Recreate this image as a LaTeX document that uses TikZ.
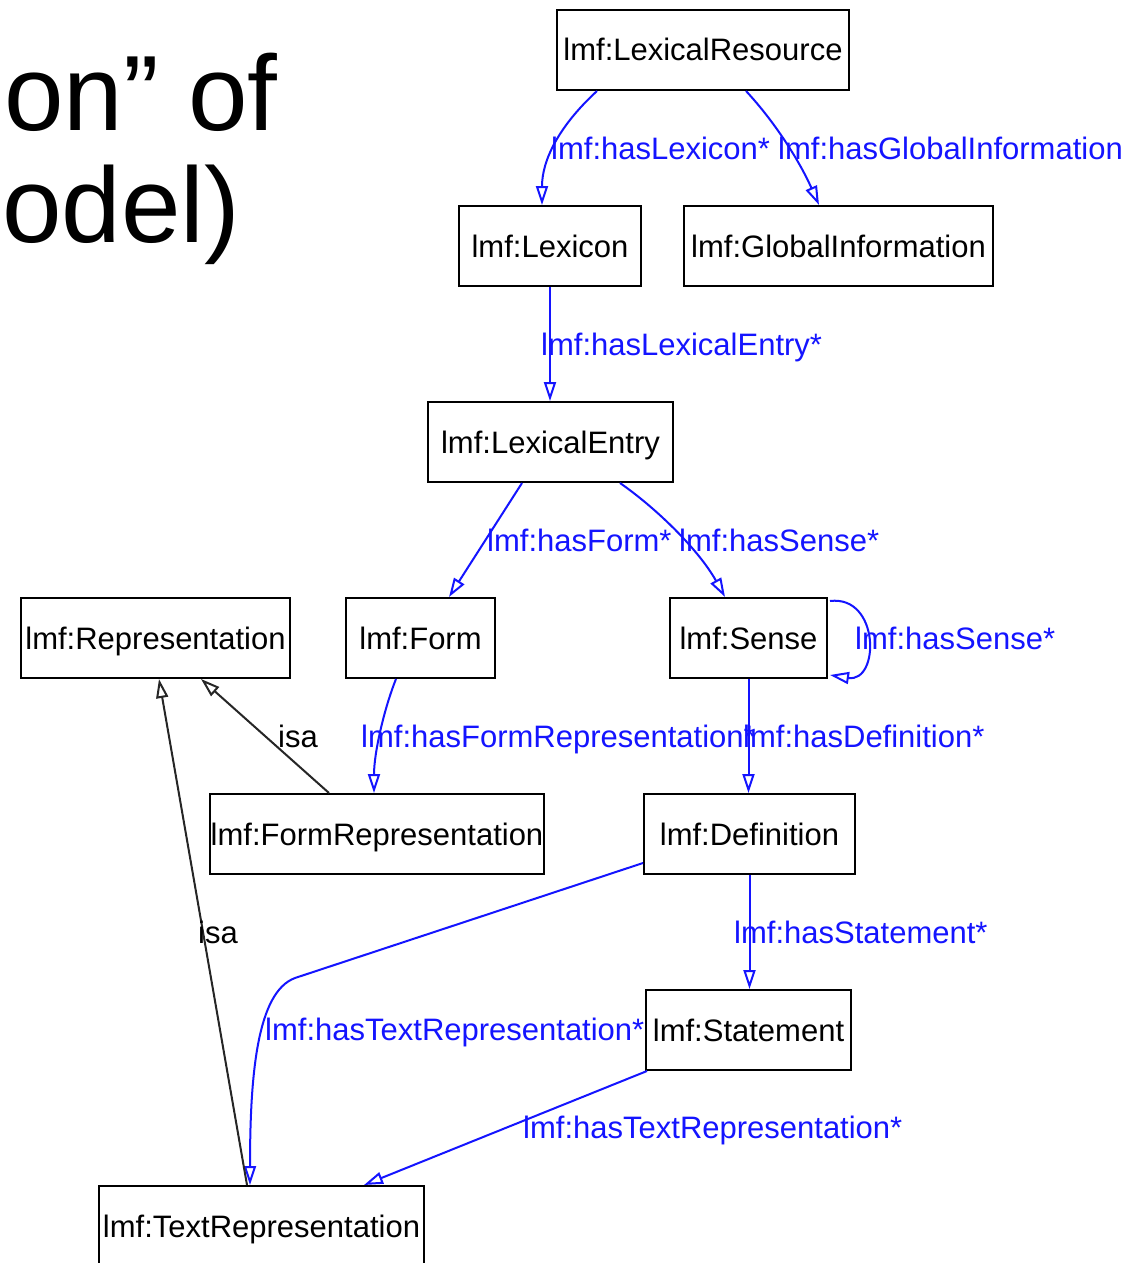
\documentclass[tikz,border=0pt]{standalone}
\usepackage{fontspec}
\setmainfont{Liberation Sans}
\usetikzlibrary{arrows.meta,calc}
\definecolor{relblue}{RGB}{20,20,255}
\tikzset{
  cls/.style={draw=black, line width=2pt, fill=white, minimum height=80pt,
    inner sep=0pt, text height=25pt, text depth=3pt,
    font=\fontsize{31}{36}\selectfont},
  rel/.style={draw=relblue, line width=2pt,
    -{Triangle[open,length=19pt,width=12pt]}},
  isarel/.style={draw=black!85, line width=2pt,
    -{Triangle[open,length=19pt,width=12pt]}},
  rellabel/.style={anchor=base west, inner sep=0pt, text=relblue,
    font=\fontsize{31}{36}\selectfont},
  isalabel/.style={anchor=base west, inner sep=0pt, text=black,
    font=\fontsize{31}{36}\selectfont},
  title/.style={anchor=base west, inner sep=0pt, font=\fontsize{107}{120}\selectfont}
}
\begin{document}
\begin{tikzpicture}[x=1pt,y=-1pt]
\useasboundingbox (0,0) rectangle (1135,1263);
\fill[white] (0,0) rectangle (1135,1263);

% slide heading fragment
\node[title] (head1) at (4,130) {on” of};
\node[title] (head2) at (2,242) {odel)};

% classes
\node[cls, minimum width=292pt] (LexRes)     at (703,50)     {lmf:LexicalResource};
\node[cls, minimum width=182pt] (Lexicon)    at (550,246)    {lmf:Lexicon};
\node[cls, minimum width=309pt] (GlobalInfo) at (838.5,246)  {lmf:GlobalInformation};
\node[cls, minimum width=245pt] (LexEntry)   at (550.5,442)  {lmf:LexicalEntry};
\node[cls, minimum width=269pt] (Repr)       at (155.5,638)  {lmf:Representation};
\node[cls, minimum width=149pt] (Form)       at (420.5,638)  {lmf:Form};
\node[cls, minimum width=157pt] (Sense)      at (748.5,638)  {lmf:Sense};
\node[cls, minimum width=334pt] (FormRepr)   at (377,834)    {lmf:FormRepresentation};
\node[cls, minimum width=211pt] (Definition) at (749.5,834)  {lmf:Definition};
\node[cls, minimum width=205pt] (Statement)  at (748.5,1030) {lmf:Statement};
\node[cls, minimum width=325pt] (TextRepr)   at (261.5,1226) {lmf:TextRepresentation};

% relations
\draw[rel] ($(LexRes.south west)+(41,0)$) .. controls +(-38,35) and +(0,-45) .. ($(Lexicon.north west)+(84,0)$);
\draw[rel] ($(LexRes.south west)+(190,0)$) .. controls +(28,30) and +(-20,-45) .. ($(GlobalInfo.north west)+(136,0)$);
\draw[rel] (Lexicon.south) -- (Lexicon.south |- LexEntry.north);
\draw[rel] ($(LexEntry.south west)+(95,0)$) -- ($(Form.north west)+(104,0)$);
\draw[rel] ($(LexEntry.south west)+(193,0)$) .. controls +(40,28) and +(-25,-45) .. ($(Sense.north west)+(56,0)$);
\draw[rel] ($(Sense.north east)+(2,4)$) .. controls +(50,-6) and +(50,8) .. ($(Sense.south east)+(2,-4)$);
\draw[rel] ($(Form.south west)+(51,0)$) .. controls +(-12,30) and +(0,-40) .. ($(FormRepr.north west)+(165,0)$);
\draw[rel] (Sense.south) -- (Sense.south |- Definition.north);
\coordinate (bend) at (295,978);
\draw[rel] ($(Definition.south west)+(0,-12)$) -- (bend) .. controls +(-38,14) and +(0,-110) .. ($(TextRepr.north west)+(152,0)$);
\draw[rel] (Definition.south) -- (Definition.south |- Statement.north);
\draw[rel] ($(Statement.south west)+(2,0)$) -- ($(TextRepr.north west)+(266,0)$);

% subclass links
\draw[isarel] ($(FormRepr.north west)+(120,0)$) -- ($(Repr.south west)+(181,0)$);
\draw[isarel] ($(TextRepr.north west)+(149,0)$) -- ($(Repr.south west)+(139,0)$);

% relation labels
\node[rellabel] (lHasLexicon)  at (551,159)  {lmf:hasLexicon*};
\node[rellabel] (lHasGlobal)   at (778,159)  {lmf:hasGlobalInformation};
\node[rellabel] (lHasEntry)    at (541,355)  {lmf:hasLexicalEntry*};
\node[rellabel] (lHasForm)     at (487,551)  {lmf:hasForm*};
\node[rellabel] (lHasSense)    at (679,551)  {lmf:hasSense*};
\node[rellabel] (lHasSenseLp)  at (855,649)  {lmf:hasSense*};
\node[rellabel] (lHasFormRep)  at (361,747)  {lmf:hasFormRepresentation*};
\node[rellabel] (lHasDef)      at (743,747)  {lmf:hasDefinition*};
\node[rellabel] (lHasStmt)     at (734,943)  {lmf:hasStatement*};
\node[rellabel] (lHasTextRepA) at (265,1040) {lmf:hasTextRepresentation*};
\node[rellabel] (lHasTextRepB) at (523,1138) {lmf:hasTextRepresentation*};
\node[isalabel] (lIsaA)        at (278,747)  {isa};
\node[isalabel] (lIsaB)        at (198,943)  {isa};
\end{tikzpicture}
\end{document}
